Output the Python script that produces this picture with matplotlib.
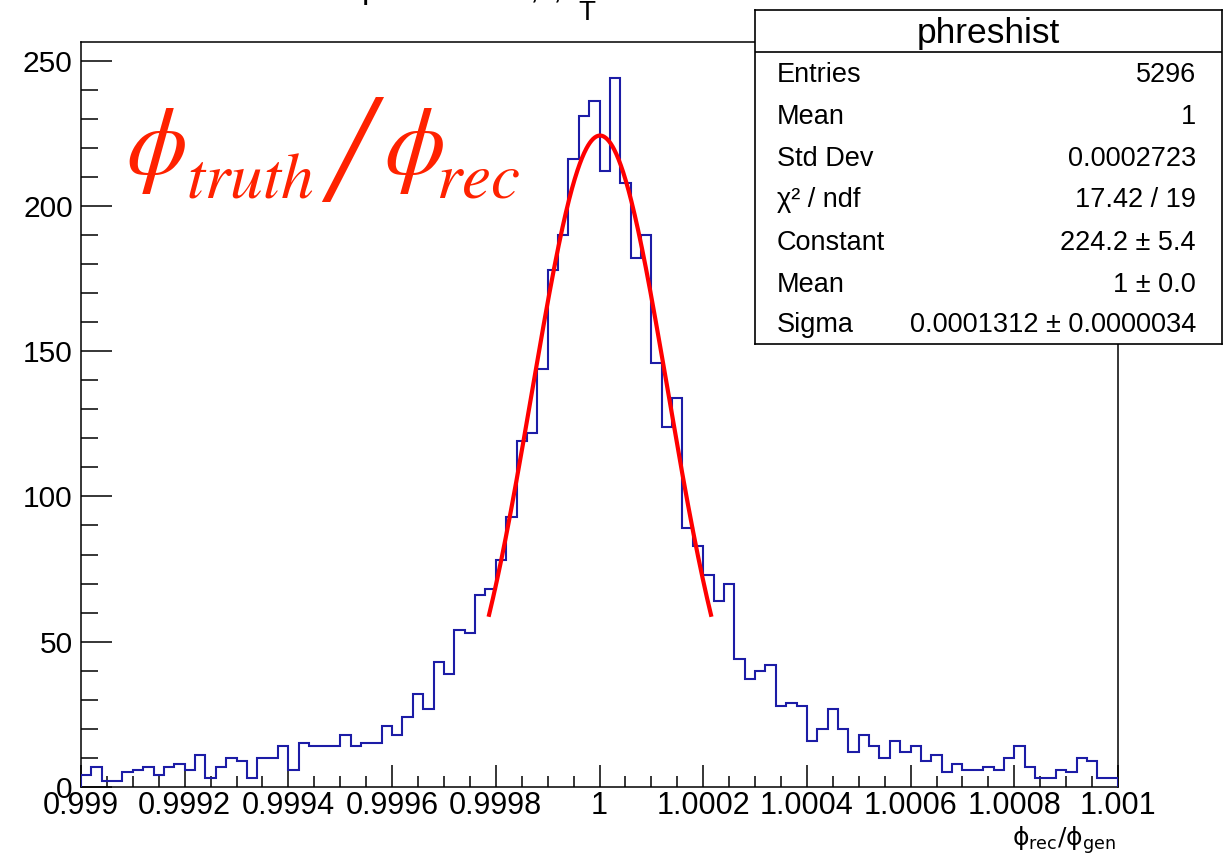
import matplotlib
matplotlib.use("Agg")
import matplotlib.pyplot as plt
import numpy as np
from matplotlib.ticker import FixedLocator, MultipleLocator

plt.rcParams['font.family'] = ['Liberation Sans', 'DejaVu Sans']

# ---------------- data ----------------
x_min, x_max = 0.999, 1.001
counts = [4, 7, 2, 2, 5, 6, 7, 4, 7, 8,
          6, 11, 3, 7, 10, 9, 3, 10, 10, 14,
          6, 15, 14, 14, 14, 18, 14, 15, 15, 21,
          18, 24, 32, 27, 43, 39, 54, 53, 66, 68,
          78, 93, 119, 122, 144, 178, 190, 216, 231, 236,
          212, 244, 208, 182, 190, 146, 124, 134, 89, 83,
          73, 64, 70, 44, 37, 40, 42, 28, 29, 28,
          16, 20, 27, 20, 12, 18, 14, 10, 16, 12,
          14, 9, 11, 5, 8, 6, 6, 7, 6, 10,
          14, 7, 3, 3, 6, 5, 10, 9, 3, 3]
xtick_values = [0.999, 0.9992, 0.9994, 0.9996, 0.9998, 1.0, 1.0002, 1.0004, 1.0006, 1.0008, 1.001]
xtick_labels = ['0.999', '0.9992', '0.9994', '0.9996', '0.9998', '1',
                '1.0002', '1.0004', '1.0006', '1.0008', '1.001']
ytick_values = [0, 50, 100, 150, 200, 250]

fit_const = 224.2
fit_mean = 1.000001
fit_sigma = 0.0001312
fit_lo, fit_hi = 0.999787, 1.000215

stats_title = 'phreshist'
stats_labels = ['Entries', 'Mean', 'Std Dev', 'χ² / ndf', 'Constant', 'Mean', 'Sigma']
stats_values = ['5296', '1', '0.0002723', '17.42 / 19', '224.2 ± 5.4', '1 ± 0.0',
                '0.0001312 ± 0.0000034']

# ---------------- figure ----------------
W, H = 1231, 857
fig = plt.figure(figsize=(W / 100, H / 100), dpi=100)
fig.patch.set_facecolor('white')

def fx(px):
    return px / W

def fy(py):
    return 1 - py / H

ax = fig.add_axes([fx(81), fy(787), (1118 - 81) / W, (787 - 42) / H])

edges = np.linspace(x_min, x_max, len(counts) + 1)
ax.stairs(counts, edges, color='#1c1ca6', lw=1.5, zorder=3)

xs = np.linspace(fit_lo, fit_hi, 400)
ys = fit_const * np.exp(-0.5 * ((xs - fit_mean) / fit_sigma) ** 2)
ax.plot(xs, ys, color='#ff0000', lw=3, zorder=4)

ax.set_xlim(x_min, x_max)
ax.set_ylim(0, 256.4)

ax.xaxis.set_major_locator(FixedLocator(xtick_values))
ax.set_xticklabels(xtick_labels)
ax.xaxis.set_minor_locator(MultipleLocator(0.00005))
ax.yaxis.set_major_locator(FixedLocator(ytick_values))
ax.yaxis.set_minor_locator(MultipleLocator(10))

ax.tick_params(axis='x', which='major', direction='in', length=15.8, width=1.1,
               labelsize=22, pad=3, top=False)
ax.tick_params(axis='x', which='minor', direction='in', length=7.9, width=1.1, top=False)
ax.tick_params(axis='y', which='major', direction='in', length=22.3, width=1.1,
               labelsize=21.5, pad=6, right=False)
ax.tick_params(axis='y', which='minor', direction='in', length=12.2, width=1.1, right=False)
for s in ax.spines.values():
    s.set_linewidth(1.1)

# x-axis title
fig.text(fx(1116), fy(846), r'$\mathrm{\phi_{rec}/\phi_{gen}}$', ha='right', va='baseline',
         fontsize=18)

# red annotation
red = '#ff2200'
fig.text(fx(126), fy(174), r'$\phi$', fontsize=70, color=red,
         math_fontfamily='stix', va='baseline')
fig.text(fx(186), fy(197), r'$truth$', fontsize=47, color=red,
         math_fontfamily='stix', va='baseline')
fig.text(fx(350), fy(162), '/', fontsize=112, color=red, family='Liberation Serif',
         style='italic', ha='center', va='center')
fig.text(fx(384), fy(174), r'$\phi$', fontsize=70, color=red,
         math_fontfamily='stix', va='baseline')
fig.text(fx(436), fy(197), r'$rec$', fontsize=47, color=red,
         math_fontfamily='stix', va='baseline')

# clipped title fragments at the top
fig.text(fx(362), fy(-2), 'p', fontsize=24, va='baseline')
fig.text(fx(530), fy(-2), ',', fontsize=24, va='baseline')
fig.text(fx(553), fy(-2), ',', fontsize=24, va='baseline')
fig.text(fx(587), fy(20), 'T', fontsize=20, ha='center', va='baseline')

# stats box
bx = fig.add_axes([fx(755), fy(344), (1222 - 755) / W, (344 - 10) / H], zorder=10)
bx.set_xlim(755, 1222)
bx.set_ylim(344, 10)
bx.set_xticks([])
bx.set_yticks([])
bx.set_facecolor('white')
for s in bx.spines.values():
    s.set_linewidth(1.2)
bx.axhline(52, color='black', lw=1.2)
bx.text(988.5, 43, stats_title, ha='center', va='baseline', fontsize=25.5)
row_y = [82, 124, 166, 207, 250, 292, 332]
for lab, val, yy in zip(stats_labels, stats_values, row_y):
    bx.text(777, yy, lab, ha='left', va='baseline', fontsize=19.5)
    bx.text(1196, yy, val, ha='right', va='baseline', fontsize=19.5)

fig.savefig('out.png', dpi=100)
